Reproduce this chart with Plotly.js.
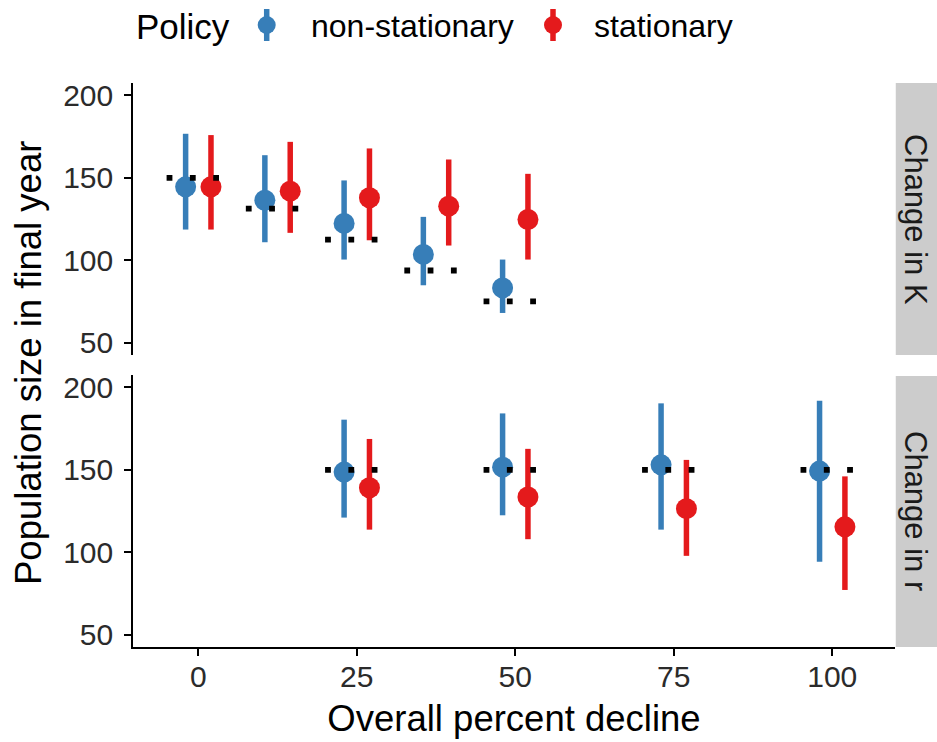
<!DOCTYPE html>
<html>
<head>
<meta charset="utf-8">
<script src="https://cdn.plot.ly/plotly-3.0.1.min.js"></script>
<style>html,body{margin:0;padding:0;background:#fff;}#chart{width:937px;height:742px;}</style>
</head>
<body>
<div id="chart"></div>
<script>
// ---- data ----
const policies = ["non-stationary", "stationary"];
const facets = ["Change in K", "Change in r"];

// Change in K panel
const kDecline   = [0, 12.5, 25, 37.5, 50];
const kNonMean   = [144.5, 136.4, 122.3, 103.5, 83.2];
const kNonLo     = [118.6, 110.9, 100.4, 84.8, 68.0];
const kNonHi     = [176.7, 163.7, 148.4, 126.3, 100.4];
const kStatMean  = [144.5, 141.9, 137.9, 132.8, 124.7];
const kStatLo    = [118.6, 116.6, 112.1, 108.9, 100.4];
const kStatHi    = [175.9, 171.8, 167.8, 161.1, 152.4];
const kExpected  = [150, 131.25, 112.5, 93.75, 75];

// Change in r panel
const rDecline   = [25, 50, 75, 100];
const rNonMean   = [148.6, 151.6, 153.0, 149.2];
const rNonLo     = [121.0, 122.4, 113.7, 94.2];
const rNonHi     = [180.4, 184.2, 190.3, 191.9];
const rStatMean  = [139.1, 133.5, 126.4, 115.4];
const rStatLo    = [113.7, 107.9, 97.8, 77.1];
const rStatHi    = [168.7, 162.7, 156.0, 146.0];
const rExpected  = [150, 150, 150, 150];

const xTicks = [0, 25, 50, 75, 100];
const yTicks = [50, 100, 150, 200];

// ---- styling ----
const BLUE = "#377EB8", RED = "#E41A1C";
const FONT = "Liberation Sans, Arial, Helvetica, sans-serif";
const DODGE = 2, HALF = 5;

function pointrange(x, mean, lo, hi, color, xa, ya, name) {
  return {
    type: "scatter", mode: "markers", name: name,
    x: x, y: mean, xaxis: xa, yaxis: ya,
    marker: {color: color, size: 21, line: {width: 0}},
    error_y: {type: "data", symmetric: false,
      array: hi.map((h, i) => h - mean[i]),
      arrayminus: lo.map((l, i) => mean[i] - l),
      width: 0, thickness: 5.5, color: color},
    hoverinfo: "x+y"
  };
}
function dotted(decl, expv, xa, ya) {
  const xs = [], ys = [];
  decl.forEach((d, i) => { xs.push(d - HALF, d + HALF, null); ys.push(expv[i], expv[i], null); });
  return {type: "scatter", mode: "lines", x: xs, y: ys, xaxis: xa, yaxis: ya,
    line: {color: "#000", width: 5.8, dash: "5.8px,17.5px"}, connectgaps: false, hoverinfo: "skip"};
}

const traces = [
  pointrange(kDecline.map(d => d - DODGE), kNonMean, kNonLo, kNonHi, BLUE, "x2", "y", policies[0]),
  pointrange(kDecline.map(d => d + DODGE), kStatMean, kStatLo, kStatHi, RED, "x2", "y", policies[1]),
  dotted(kDecline, kExpected, "x2", "y"),
  pointrange(rDecline.map(d => d - DODGE), rNonMean, rNonLo, rNonHi, BLUE, "x", "y2", policies[0]),
  pointrange(rDecline.map(d => d + DODGE), rStatMean, rStatLo, rStatHi, RED, "x", "y2", policies[1]),
  dotted(rDecline, rExpected, "x", "y2")
];

// pixel helpers for paper coords (plot area 133..895 x, 83..647 y)
const L = 133, R = 895, T = 83, B = 647;
const px = v => (v - L) / (R - L);
const py = v => (B - v) / (B - T);

const yAxisBase = {
  range: [42.5, 207.5], tickvals: yTicks, ticks: "outside", ticklen: 7, tickwidth: 1.8, tickcolor: "#000",
  showline: true, linecolor: "#000", linewidth: 1.8, showgrid: false, zeroline: false,
  ticklabelstandoff: 5,
  tickfont: {family: FONT, size: 30, color: "#2b2b2b"}, fixedrange: true
};

const layout = {
  width: 937, height: 742,
  margin: {l: L, r: 937 - R, t: T, b: 742 - B},
  paper_bgcolor: "#fff", plot_bgcolor: "#fff",
  showlegend: false,
  font: {family: FONT, color: "#000"},
  xaxis: {
    anchor: "y2", domain: [0, 1], range: [-10.3, 109.9], tickvals: xTicks,
    ticks: "outside", ticklen: 7, tickwidth: 1.8, tickcolor: "#000",
    showline: true, linecolor: "#000", linewidth: 1.8, showgrid: false, zeroline: false,
    ticklabelstandoff: -5,
    tickfont: {family: FONT, size: 30, color: "#2b2b2b"},
    title: {text: "Overall percent decline", font: {family: FONT, size: 36.5, color: "#000"}, standoff: 14}
  },
  xaxis2: {anchor: "y", matches: "x", domain: [0, 1], range: [-10.3, 109.9], showline: false, ticks: "",
    showticklabels: false, showgrid: false, zeroline: false},
  yaxis: Object.assign({}, yAxisBase, {anchor: "x2", domain: [py(355), 1]}),
  yaxis2: Object.assign({}, yAxisBase, {anchor: "x", domain: [0, py(375)]}),
  shapes: [
    {type: "rect", xref: "paper", yref: "paper", x0: 1.001, x1: px(940), y0: py(355), y1: 1,
      fillcolor: "#CCCCCC", line: {width: 0}, layer: "below"},
    {type: "rect", xref: "paper", yref: "paper", x0: 1.001, x1: px(940), y0: 0, y1: py(376),
      fillcolor: "#CCCCCC", line: {width: 0}, layer: "below"},
    // legend keys
    {type: "line", xref: "paper", yref: "paper", x0: px(266.7), x1: px(266.7), y0: py(9), y1: py(41),
      line: {color: BLUE, width: 5.5}},
    {type: "circle", xref: "paper", yref: "paper", xsizemode: "pixel", ysizemode: "pixel",
      xanchor: px(266.7), yanchor: py(25), x0: -9, x1: 9, y0: -9, y1: 9, fillcolor: BLUE, line: {width: 0}},
    {type: "line", xref: "paper", yref: "paper", x0: px(553), x1: px(553), y0: py(9), y1: py(41),
      line: {color: RED, width: 5.5}},
    {type: "circle", xref: "paper", yref: "paper", xsizemode: "pixel", ysizemode: "pixel",
      xanchor: px(553), yanchor: py(25), x0: -9, x1: 9, y0: -9, y1: 9, fillcolor: RED, line: {width: 0}}
  ],
  annotations: [
    {text: "Population size in final year", xref: "paper", yref: "paper", x: px(28), y: py(363),
      textangle: -90, showarrow: false, xanchor: "center", yanchor: "middle",
      font: {family: FONT, size: 36.5, color: "#000"}},
    {text: facets[0], xref: "paper", yref: "paper", x: px(916), y: py(219), textangle: 90,
      showarrow: false, xanchor: "center", yanchor: "middle", font: {family: FONT, size: 31, color: "#1A1A1A"}},
    {text: facets[1], xref: "paper", yref: "paper", x: px(916), y: py(511), textangle: 90,
      showarrow: false, xanchor: "center", yanchor: "middle", font: {family: FONT, size: 31, color: "#1A1A1A"}},
    {text: "Policy", xref: "paper", yref: "paper", x: px(134), y: py(26), showarrow: false,
      xanchor: "left", yanchor: "middle", font: {family: FONT, size: 35, color: "#000"}},
    {text: policies[0], xref: "paper", yref: "paper", x: px(309), y: py(26), showarrow: false,
      xanchor: "left", yanchor: "middle", font: {family: FONT, size: 32, color: "#000"}},
    {text: policies[1], xref: "paper", yref: "paper", x: px(592), y: py(26), showarrow: false,
      xanchor: "left", yanchor: "middle", font: {family: FONT, size: 32, color: "#000"}}
  ]
};

Plotly.newPlot("chart", traces, layout, {displayModeBar: false, staticPlot: true});
</script>
</body>
</html>
